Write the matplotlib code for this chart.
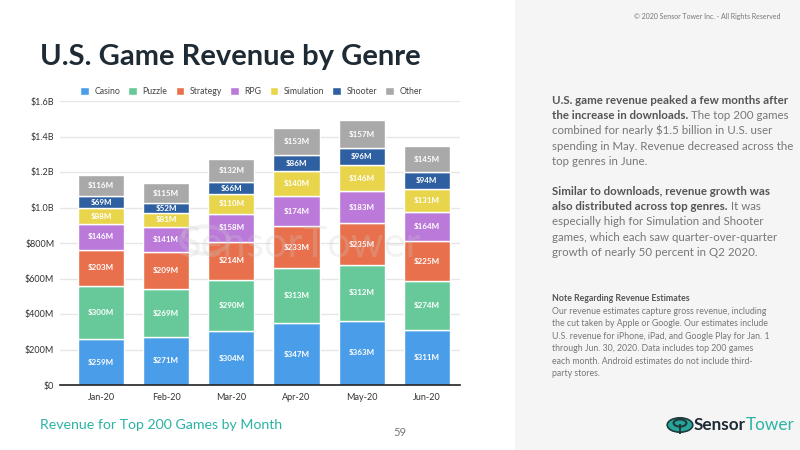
import matplotlib.pyplot as plt
from matplotlib.patches import Rectangle, Circle
from matplotlib.ticker import FuncFormatter

months = ["Jan-20", "Feb-20", "Mar-20", "Apr-20", "May-20", "Jun-20"]
genres = ["Casino", "Puzzle", "Strategy", "RPG", "Simulation", "Shooter", "Other"]
casino = [259, 271, 304, 347, 363, 311]
puzzle = [300, 269, 290, 313, 312, 274]
strategy = [203, 209, 214, 233, 235, 225]
rpg = [146, 141, 158, 174, 183, 164]
simulation = [88, 81, 110, 140, 146, 131]
shooter = [69, 52, 66, 86, 96, 94]
other = [116, 115, 132, 153, 157, 145]
colors = ["#4a9de8", "#67c999", "#e8704d", "#bb79d9", "#e8d54b", "#2d5fa1", "#a9a9a9"]

plt.rcParams['font.family'] = ['Lato', 'DejaVu Sans']

fig = plt.figure(figsize=(8, 4.5), dpi=100)
fig.patch.set_facecolor("white")

# right grey panel
fig.add_artist(Rectangle((515 / 800, 0), 285 / 800, 1, transform=fig.transFigure,
                         facecolor="#f5f5f5", edgecolor="none", zorder=0))

ax = fig.add_axes([60 / 800, 1 - 385 / 450, 400 / 800, 284 / 450])
series = [casino, puzzle, strategy, rpg, simulation, shooter, other]
x = list(range(len(months)))
bottom = [0] * len(months)
for name, vals, col in zip(genres, series, colors):
    ax.bar(x, vals, bottom=bottom, width=0.71, color=col, edgecolor="white",
           linewidth=1.0, label=name, zorder=3)
    for xi, b, v in zip(x, bottom, vals):
        ax.text(xi, b + v / 2, f"${v}M", ha="center", va="center", color="white",
                fontsize=5.8, fontweight="bold", zorder=5)
    bottom = [b + v for b, v in zip(bottom, vals)]

ax.set_xlim(-0.63, 5.51)
ax.set_ylim(0, 1600)
ax.set_yticks(range(0, 1601, 200))
ax.yaxis.set_major_formatter(FuncFormatter(
    lambda v, p: "$0" if v == 0 else (f"${v:.0f}M" if v < 1000 else f"${v / 1000:.1f}B")))
ax.set_xticks(x)
ax.set_xticklabels(months)
ax.tick_params(axis="both", length=0, labelsize=6.5, labelcolor="#333333")
ax.tick_params(axis="x", pad=6)
ax.tick_params(axis="y", pad=4)
ax.grid(axis="y", color="#e6e6e6", linewidth=1, zorder=0)
for s in ["top", "right", "left"]:
    ax.spines[s].set_visible(False)
ax.spines["bottom"].set_color("#222222")
ax.spines["bottom"].set_linewidth(1.2)
ax.spines["bottom"].set_zorder(6)

ax.legend(loc="lower center", bbox_to_anchor=(0.478, 0.99), ncol=7, frameon=False,
          fontsize=6.3, handlelength=1.0, handleheight=1.0, handletextpad=0.6,
          columnspacing=0.95, labelcolor="#444444")

# faint watermark behind the labels
fig.text(300 / 800, 1 - 245 / 450, "SensorTower", fontsize=30, color="#cccccc",
         alpha=0.25, ha="center", va="center", zorder=4)
fig.add_artist(Circle((205 / 800, 1 - 240 / 450), 0.03, transform=fig.transFigure,
                      fill=False, edgecolor="#cccccc", linewidth=3, alpha=0.25, zorder=4))

# title and footer
fig.text(40 / 800, 1 - 57 / 450, "U.S. Game Revenue by Genre", fontsize=21,
         fontweight="bold", color="#1e2b35", va="center")
fig.text(40 / 800, 1 - 425 / 450, "Revenue for Top 200 Games by Month", fontsize=10.2,
         color="#2bb3a4", va="center")
fig.text(400 / 800, 1 - 432 / 450, "59", fontsize=8, color="#777777",
         ha="center", va="center")

# right panel text
fig.text(780 / 800, 1 - 17 / 450, "\u00a9 2020 Sensor Tower Inc. - All Rights Reserved",
         fontsize=5, color="#777777", ha="right", va="center")


def mixed_line(y, bold, regular, size=8.3):
    if not bold:
        fig.text(552 / 800, 1 - y / 450, regular, fontsize=size, color="#777777",
                 va="baseline")
        return
    t = fig.text(552 / 800, 1 - y / 450, bold, fontsize=size, fontweight="bold",
                 color="#555555", va="baseline")
    if regular:
        fig.add_artist(plt.Annotation(" " + regular, xy=(1, 0), xycoords=t,
                                      fontsize=size, color="#777777",
                                      va="bottom", ha="left"))


block1 = [("U.S. game revenue peaked a few months after", ""),
          ("the increase in downloads.", "The top 200 games"),
          ("", "combined for nearly $1.5 billion in U.S. user"),
          ("", "spending in May. Revenue decreased across the"),
          ("", "top genres in June.")]
block2 = [("Similar to downloads, revenue growth was", ""),
          ("also distributed across top genres.", "It was"),
          ("", "especially high for Simulation and Shooter"),
          ("", "games, which each saw quarter-over-quarter"),
          ("", "growth of nearly 50 percent in Q2 2020.")]
for i, (b, r) in enumerate(block1):
    mixed_line(104 + 15.2 * i, b, r)
for i, (b, r) in enumerate(block2):
    mixed_line(195 + 15.2 * i, b, r)

fig.text(552 / 800, 1 - 301 / 450, "Note Regarding Revenue Estimates", fontsize=6.3,
         fontweight="bold", color="#555555", va="baseline")
note = ["Our revenue estimates capture gross revenue, including",
        "the cut taken by Apple or Google. Our estimates include",
        "U.S. revenue for iPhone, iPad, and Google Play for Jan. 1",
        "through Jun. 30, 2020. Data includes top 200 games",
        "each month. Android estimates do not include third-",
        "party stores."]
for i, line in enumerate(note):
    fig.text(552 / 800, 1 - (314 + 12.4 * i) / 450, line, fontsize=6.3,
             color="#777777", va="baseline")

# logo
fig.add_artist(Circle((680 / 800, 1 - 425 / 450), 0.016, transform=fig.transFigure,
                      facecolor="#26a69a", edgecolor="#1e3a3a", linewidth=1.2, zorder=5))
fig.add_artist(Circle((680 / 800, 1 - 423 / 450), 0.008, transform=fig.transFigure,
                      facecolor="none", edgecolor="#1e3a3a", linewidth=1.5, zorder=6))
fig.add_artist(Rectangle((679 / 800, 1 - 434 / 450), 2 / 800, 10 / 450,
                         transform=fig.transFigure, facecolor="#1e3a3a", zorder=6))
t1 = fig.text(694 / 800, 1 - 425 / 450, "Sensor", fontsize=12.3, fontweight="bold",
              color="#1e2b35", va="center")
fig.add_artist(plt.Annotation("Tower", xy=(1, 0.5), xycoords=t1, fontsize=12.3,
                              color="#2bb3a4", va="center", ha="left"))

fig.savefig("out.png", dpi=100)
